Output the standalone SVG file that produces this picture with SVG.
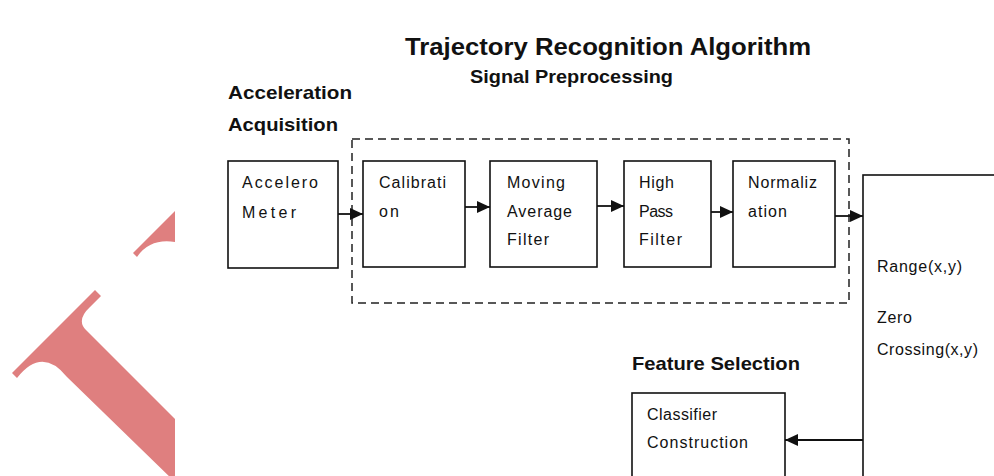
<svg xmlns="http://www.w3.org/2000/svg" width="994" height="476" viewBox="0 0 994 476">
  <style>
    .box { fill: #ffffff; stroke: #111111; stroke-width: 1.6; }
    .group { fill: none; stroke: #222222; stroke-width: 1.5; stroke-dasharray: 8 5; }
    .link { fill: none; stroke: #111111; stroke-width: 1.8; }
    .txt { font-family: "Liberation Sans", Arial, sans-serif; font-size: 16px; fill: #111111; }
    .head { font-family: "Liberation Sans", Arial, sans-serif; font-size: 19px; font-weight: bold; fill: #111111; }
    .title { font-family: "Liberation Sans", Arial, sans-serif; font-size: 23px; font-weight: bold; fill: #111111; }
  </style>
  <defs>
    <marker id="arrow" markerUnits="userSpaceOnUse" markerWidth="13" markerHeight="12" viewBox="0 0 13 12" refX="13" refY="6" orient="auto">
      <path d="M0,0 L13,6 L0,12 Z" fill="#111111"/>
    </marker>
  </defs>

  <rect width="994" height="476" fill="#ffffff"/>

  <!-- decorative red emblem, cut off at the left margin -->
  <g id="emblem" fill="#df7f7f">
    <path d="M12,373 L95,290 L101,296 L90,307 Q76,320 86,330 L175,419 L175,482 L67,377 Q42,346 17,378 Z"/>
    <path d="M133,253 L175,211 L175,242 Q150,238 137,257 Z"/>
  </g>

  <!-- headings -->
  <g id="headings">
    <text class="title" x="405" y="55" textLength="406" lengthAdjust="spacingAndGlyphs">Trajectory Recognition Algorithm</text>
    <text class="head" x="470" y="83" textLength="203" lengthAdjust="spacingAndGlyphs">Signal Preprocessing</text>
    <text class="head" x="228" y="99" textLength="124" lengthAdjust="spacingAndGlyphs">Acceleration</text>
    <text class="head" x="228" y="131" textLength="110" lengthAdjust="spacingAndGlyphs">Acquisition</text>
    <text class="head" x="632" y="370" textLength="168" lengthAdjust="spacingAndGlyphs">Feature Selection</text>
  </g>

  <!-- preprocessing stage boundary -->
  <rect id="preprocessing" class="group" x="352" y="139" width="497" height="164"/>

  <g id="accelerometer">
    <rect class="box" x="228" y="161" width="110" height="107"/>
    <text class="txt" x="242" y="188" textLength="76" lengthAdjust="spacing">Accelero</text>
    <text class="txt" x="242" y="218" textLength="54" lengthAdjust="spacing">Meter</text>
  </g>

  <g id="calibration">
    <rect class="box" x="363" y="161" width="102" height="106"/>
    <text class="txt" x="379" y="188" textLength="67" lengthAdjust="spacing">Calibrati</text>
    <text class="txt" x="379" y="217" textLength="20" lengthAdjust="spacing">on</text>
  </g>

  <g id="moving-average">
    <rect class="box" x="490" y="161" width="107" height="106"/>
    <text class="txt" x="507" y="188" textLength="58" lengthAdjust="spacing">Moving</text>
    <text class="txt" x="507" y="217" textLength="65" lengthAdjust="spacing">Average</text>
    <text class="txt" x="507" y="245" textLength="42" lengthAdjust="spacing">Filter</text>
  </g>

  <g id="high-pass">
    <rect class="box" x="624" y="161" width="87" height="106"/>
    <text class="txt" x="639" y="188" textLength="35" lengthAdjust="spacing">High</text>
    <text class="txt" x="639" y="217" textLength="34" lengthAdjust="spacing">Pass</text>
    <text class="txt" x="639" y="245" textLength="43" lengthAdjust="spacing">Filter</text>
  </g>

  <g id="normalization">
    <rect class="box" x="733" y="161" width="102" height="106"/>
    <text class="txt" x="748" y="188" textLength="69" lengthAdjust="spacing">Normaliz</text>
    <text class="txt" x="748" y="217" textLength="39" lengthAdjust="spacing">ation</text>
  </g>

  <g id="features">
    <rect class="box" x="863" y="175" width="200" height="400"/>
    <text class="txt" x="877" y="272" textLength="85" lengthAdjust="spacing">Range(x,y)</text>
    <text class="txt" x="877" y="323" textLength="35" lengthAdjust="spacing">Zero</text>
    <text class="txt" x="877" y="355" textLength="101" lengthAdjust="spacing">Crossing(x,y)</text>
  </g>

  <g id="classifier">
    <rect class="box" x="632" y="393" width="153" height="120"/>
    <text class="txt" x="647" y="420" textLength="70" lengthAdjust="spacing">Classifier</text>
    <text class="txt" x="647" y="448" textLength="101" lengthAdjust="spacing">Construction</text>
  </g>

  <!-- connectors -->
  <g id="connectors">
    <line class="link" x1="338" y1="214" x2="363" y2="214" marker-end="url(#arrow)"/>
    <line class="link" x1="465" y1="207" x2="490" y2="207" marker-end="url(#arrow)"/>
    <line class="link" x1="597" y1="206" x2="624" y2="206" marker-end="url(#arrow)"/>
    <line class="link" x1="711" y1="212" x2="733" y2="212" marker-end="url(#arrow)"/>
    <line class="link" x1="835" y1="216" x2="863" y2="216" marker-end="url(#arrow)"/>
    <line class="link" x1="863" y1="440" x2="785" y2="440" marker-end="url(#arrow)"/>
  </g>
</svg>
